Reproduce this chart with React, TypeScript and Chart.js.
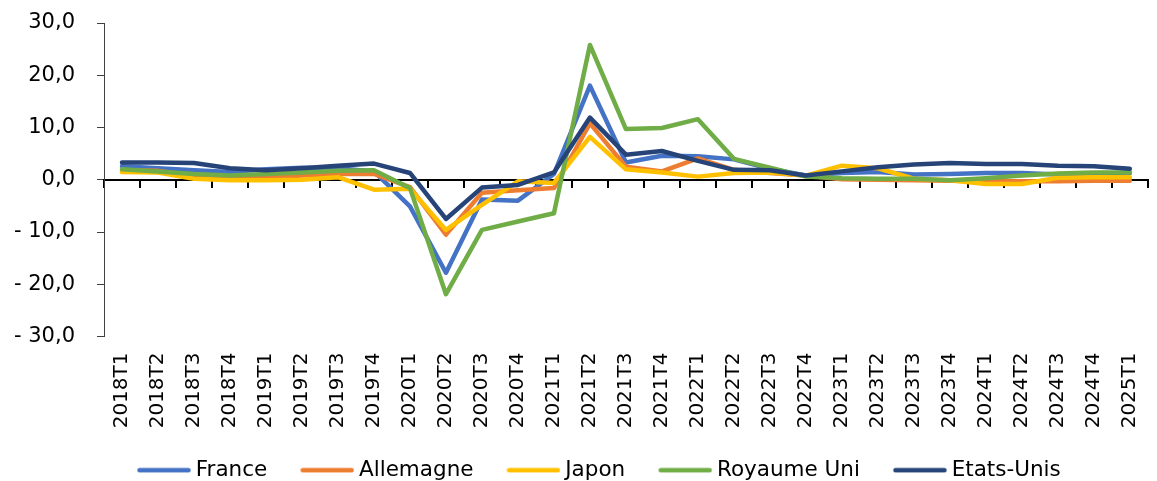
import React, { useEffect, useRef } from 'react';
import { Chart, registerables } from 'chart.js';

Chart.register(...registerables);

const quarters = [
  '2018T1', '2018T2', '2018T3', '2018T4',
  '2019T1', '2019T2', '2019T3', '2019T4',
  '2020T1', '2020T2', '2020T3', '2020T4',
  '2021T1', '2021T2', '2021T3', '2021T4',
  '2022T1', '2022T2', '2022T3', '2022T4',
  '2023T1', '2023T2', '2023T3', '2023T4',
  '2024T1', '2024T2', '2024T3', '2024T4',
  '2025T1',
];

const france = [2.6, 2.2, 1.8, 1.5, 2.0, 2.3, 2.2, 1.6, -5.1, -17.8, -3.8, -4.0, 1.1, 18.0, 3.3, 4.6, 4.5, 3.9, 2.1, 0.8, 1.3, 1.5, 1.0, 1.1, 1.3, 1.3, 1.0, 1.2, 1.3];
const allemagne = [1.8, 1.7, 0.8, 0.3, 0.5, 0.8, 1.1, 1.1, -1.4, -10.5, -2.5, -2.0, -1.6, 10.8, 2.5, 1.6, 4.1, 1.9, 1.3, 0.8, 0.1, 0.0, -0.1, -0.2, -0.3, -0.3, -0.3, -0.2, -0.2];
const japon = [1.5, 1.4, 0.2, -0.1, -0.1, 0.0, 0.5, -1.9, -1.7, -9.6, -4.8, -0.3, -0.6, 8.2, 2.0, 1.4, 0.6, 1.3, 1.4, 0.8, 2.7, 2.2, 0.2, -0.1, -0.8, -0.8, 0.4, 0.5, 0.5];
const royaumeUni = [2.0, 1.6, 1.1, 0.8, 1.1, 1.4, 1.7, 1.8, -1.6, -21.9, -9.6, -8.0, -6.4, 25.8, 9.7, 9.9, 11.6, 4.0, 2.3, 0.6, 0.3, 0.2, 0.2, -0.1, 0.3, 0.8, 1.2, 1.4, 1.4];
const etatsUnis = [3.3, 3.3, 3.2, 2.2, 1.8, 2.2, 2.7, 3.1, 1.3, -7.5, -1.5, -1.0, 1.4, 11.9, 4.8, 5.5, 3.6, 1.9, 1.8, 0.8, 1.6, 2.4, 2.9, 3.2, 3.0, 3.0, 2.7, 2.6, 2.1];

const seriesNames = ['France', 'Allemagne', 'Japon', 'Royaume Uni', 'Etats-Unis'];
const seriesColors = ['#4472C4', '#ED7D31', '#FFC000', '#70AD47', '#264478'];
const seriesValues = [france, allemagne, japon, royaumeUni, etatsUnis];

const yMin = -30;
const yMax = 30;
const yStep = 10;

function formatTick(v: number): string {
  const s = Math.abs(v).toFixed(1).replace('.', ',');
  return v < 0 ? '- ' + s : s;
}

// legend swatch: a short rounded line sitting at the right of a 74px image
function legendLine(color: string): HTMLCanvasElement {
  const c = document.createElement('canvas');
  c.width = 74;
  c.height = 6;
  const g = c.getContext('2d')!;
  g.strokeStyle = color;
  g.lineWidth = 4.5;
  g.lineCap = 'round';
  g.beginPath();
  g.moveTo(22.5, 3);
  g.lineTo(71.5, 3);
  g.stroke();
  return c;
}

export default function App() {
  const ref = useRef<HTMLCanvasElement>(null);

  useEffect(() => {
    Chart.defaults.font.family = "'DejaVu Sans', Verdana, sans-serif";
    Chart.defaults.color = '#000';
    const canvas = ref.current!;
    const chart = new Chart(canvas, {
      type: 'line',
      data: {
        labels: quarters,
        datasets: seriesNames.map((name, i) => ({
          label: name,
          data: seriesValues[i],
          borderColor: seriesColors[i],
          backgroundColor: seriesColors[i],
          borderWidth: 4.5,
          pointRadius: 0,
          pointStyle: legendLine(seriesColors[i]),
          tension: 0,
          borderCapStyle: 'round',
          borderJoinStyle: 'round',
          order: seriesNames.length - i,
          xAxisID: 'x',
          yAxisID: 'y',
        })),
      },
      options: {
        responsive: false,
        animation: false,
        devicePixelRatio: 1,
        layout: { padding: { top: 23, left: 0, right: 8, bottom: -10 } },
        plugins: {
          tooltip: { enabled: false },
          legend: {
            position: 'bottom',
            fullSize: false,
            align: 'start',
            labels: {
              usePointStyle: true,
              pointStyleWidth: 62,
              padding: 19,
              color: '#000',
              font: { size: 21.5 },
              sort: (a: any, b: any) => a.datasetIndex - b.datasetIndex,
            },
          },
        },
        scales: {
          x: {
            type: 'category',
            position: 'bottom',
            offset: true,
            grid: { display: false, drawTicks: false },
            border: { display: false },
            ticks: {
              autoSkip: false,
              minRotation: 90,
              maxRotation: 90,
              padding: 16,
              color: '#000',
              font: { size: 20 },
            },
            afterFit: (s: any) => { s.height = 104; },
          },
          x0: {
            type: 'category',
            position: { y: 0 } as any,
            offset: true,
            ticks: { display: false },
            grid: {
              display: true,
              drawOnChartArea: false,
              drawTicks: true,
              tickLength: 7,
              color: '#000',
              lineWidth: 2,
              offset: true,
            },
            border: { display: true, color: '#000', width: 2 },
          },
          y: {
            type: 'linear',
            position: 'left',
            min: yMin,
            max: yMax,
            ticks: {
              stepSize: yStep,
              padding: 22,
              color: '#000',
              font: { size: 21 },
              callback: (v: any) => formatTick(Number(v)),
            },
            grid: {
              display: true,
              drawOnChartArea: false,
              drawTicks: true,
              tickLength: 7,
              color: '#404040',
              lineWidth: 1,
            },
            border: { display: true, color: '#404040', width: 1 },
            afterFit: (s: any) => {
              s.width = 104;
              s.paddingTop = 0;
              s.paddingBottom = 0;
            },
          },
        },
      },
    } as any);
    return () => chart.destroy();
  }, []);

  return (
    <div style={{ position: 'fixed', left: 0, top: 0, width: 1170, height: 481, background: '#fff' }}>
      <canvas ref={ref} width={1170} height={481} style={{ width: 1170, height: 481, display: 'block' }} />
    </div>
  );
}
